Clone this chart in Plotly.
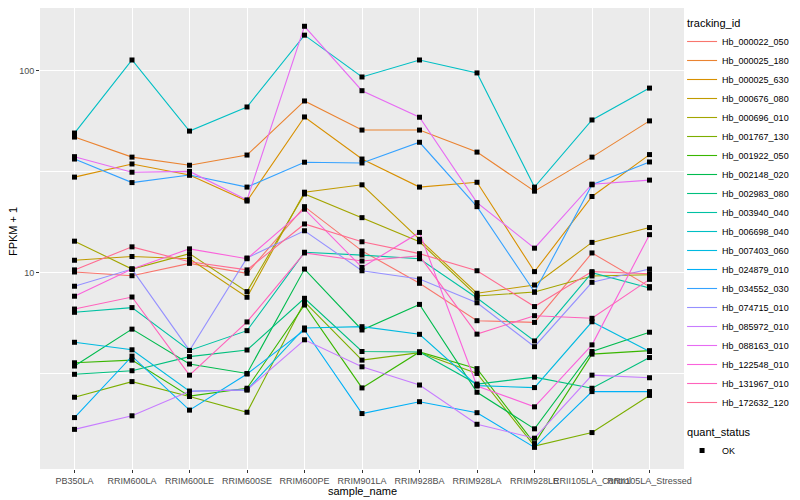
import plotly.graph_objects as go

samples = ["PB350LA", "RRIM600LA", "RRIM600LE", "RRIM600SE", "RRIM600PE", "RRIM901LA",
           "RRIM928BA", "RRIM928LA", "RRIM928LE", "RRII105LA_Control", "RRII105LA_Stressed"]

tracking_ids = ["Hb_000022_050", "Hb_000025_180", "Hb_000025_630", "Hb_000676_080",
                "Hb_000696_010", "Hb_001767_130", "Hb_001922_050", "Hb_002148_020",
                "Hb_002983_080", "Hb_003940_040", "Hb_006698_040", "Hb_007403_060",
                "Hb_024879_010", "Hb_034552_030", "Hb_074715_010", "Hb_085972_010",
                "Hb_088163_010", "Hb_122548_010", "Hb_131967_010", "Hb_172632_120"]

colors = ["#F8766D", "#EA8331", "#D89000", "#C09B00", "#A3A500", "#7CAE00", "#39B600",
          "#00BB4E", "#00BF7D", "#00C1A3", "#00BFC4", "#00BAE0", "#00B0F6", "#35A2FF",
          "#9590FF", "#C77CFF", "#E76BF3", "#FA62DB", "#FF62BC", "#FF6C91"]

# FPKM + 1 values, one list per tracking_id (order of samples)
hb_000022_050 = [10.06, 9.64, 11.1, 9.91, 21.2, 12.8, 8.84, 5.77, 5.66, 12.5, 8.51]
hb_000025_180 = [46.9, 37.3, 34.0, 38.2, 70.8, 50.8, 50.8, 39.5, 25.3, 37.3, 56.4]
hb_000025_630 = [29.7, 34.5, 30.4, 22.6, 59.0, 36.5, 26.5, 28.0, 10.1, 23.8, 38.4]
hb_000676_080 = [11.5, 12.0, 11.7, 7.54, 25.0, 27.2, 14.6, 7.89, 8.67, 14.1, 16.7]
hb_000696_010 = [14.3, 10.4, 12.4, 8.04, 24.5, 18.7, 14.2, 7.65, 8.0, 9.61, 9.75]
hb_001767_130 = [2.41, 2.88, 2.43, 2.03, 7.15, 3.68, 4.01, 3.16, 1.38, 1.61, 2.46]
hb_001922_050 = [3.57, 3.68, 2.44, 2.67, 6.90, 2.68, 4.04, 3.34, 1.42, 3.94, 4.10]
hb_002148_020 = [3.44, 5.24, 3.52, 3.16, 10.4, 5.19, 6.95, 2.55, 1.68, 4.06, 5.06]
hb_002983_080 = [3.13, 3.26, 3.83, 4.13, 7.45, 4.06, 4.04, 2.80, 3.03, 2.67, 3.79]
hb_003940_040 = [6.35, 6.70, 4.11, 5.15, 12.6, 12.2, 11.7, 7.48, 4.58, 9.98, 8.38]
hb_006698_040 = [49.1, 113.0, 50.2, 66.1, 150.0, 93.1, 113.0, 97.5, 26.5, 57.0, 82.0]
hb_007403_060 = [4.51, 4.14, 2.58, 2.62, 5.31, 5.39, 4.94, 2.75, 2.69, 5.70, 4.06]
hb_024879_010 = [1.91, 3.85, 2.08, 3.14, 5.19, 2.00, 2.29, 2.02, 1.36, 2.57, 2.57]
hb_034552_030 = [36.5, 27.9, 30.4, 26.5, 35.2, 34.9, 44.2, 21.2, 8.0, 27.2, 35.3]
hb_074715_010 = [8.55, 10.4, 4.11, 11.8, 16.1, 10.2, 9.29, 7.08, 4.29, 8.94, 10.4]
hb_085972_010 = [1.67, 1.95, 2.58, 2.62, 4.64, 3.41, 2.77, 1.77, 1.51, 3.10, 3.01]
hb_088163_010 = [37.5, 31.4, 31.7, 22.9, 166.0, 79.6, 58.8, 22.2, 13.2, 27.4, 28.7]
hb_122548_010 = [7.63, 10.4, 13.1, 11.7, 20.6, 10.6, 15.8, 2.74, 2.16, 4.38, 15.4]
hb_131967_010 = [6.59, 7.56, 3.10, 5.69, 12.5, 11.4, 12.1, 4.95, 6.11, 5.93, 9.25]
hb_172632_120 = [10.3, 13.4, 11.3, 10.3, 17.4, 14.2, 12.4, 10.2, 6.78, 10.1, 9.86]

series = [hb_000022_050, hb_000025_180, hb_000025_630, hb_000676_080, hb_000696_010,
          hb_001767_130, hb_001922_050, hb_002148_020, hb_002983_080, hb_003940_040,
          hb_006698_040, hb_007403_060, hb_024879_010, hb_034552_030, hb_074715_010,
          hb_085972_010, hb_088163_010, hb_122548_010, hb_131967_010, hb_172632_120]

quant_status = ["OK"]

fig = go.Figure()
for tid, col, vals in zip(tracking_ids, colors, series):
    fig.add_trace(go.Scatter(
        x=samples, y=vals, mode="lines", name=tid,
        line=dict(color=col, width=1.1),
        legendgroup="tracking_id",
        legendgrouptitle=dict(text="tracking_id"),
        hoverinfo="skip",
    ))

all_x, all_y = [], []
for vals in series:
    all_x += samples
    all_y += vals
fig.add_trace(go.Scatter(
    x=all_x, y=all_y, mode="markers", name=quant_status[0],
    marker=dict(symbol="square", size=5, color="black", line=dict(width=0)),
    legendgroup="quant_status",
    legendgrouptitle=dict(text="quant_status"),
))

# The page body adds an 8px offset; the figure is sized to the visible area.
fig.update_layout(
    width=792, height=492,
    margin=dict(l=32, r=116, t=0, b=31),
    paper_bgcolor="white", plot_bgcolor="#EBEBEB",
    font=dict(family="Liberation Sans, Arial, sans-serif", size=9, color="#4D4D4D"),
    showlegend=True,
    legend=dict(x=0.997, xanchor="left", y=0.512, yanchor="middle",
                tracegroupgap=10, traceorder="grouped",
                font=dict(size=9, color="black"),
                grouptitlefont=dict(size=11, color="black"),
                bgcolor="rgba(0,0,0,0)", itemwidth=30),
    annotations=[
        dict(text="sample_name", x=0.5, y=-0.048, xref="paper", yref="paper",
             xanchor="center", yanchor="middle", showarrow=False,
             font=dict(size=11, color="black")),
        dict(text="FPKM + 1", x=-0.0419, y=0.514, xref="paper", yref="paper",
             xanchor="center", yanchor="middle", showarrow=False, textangle=-90,
             font=dict(size=11, color="black")),
    ],
)
fig.update_xaxes(
    type="category", categoryorder="array", categoryarray=samples,
    range=[-0.6, 10.6], showgrid=True, gridcolor="white", gridwidth=1.1,
    ticks="outside", ticklen=3, tickcolor="#333333", tickwidth=1, tickangle=0,
    tickfont=dict(size=9, color="#4D4D4D"), zeroline=False, showline=False,
    automargin=False,
)
fig.update_yaxes(
    type="log", range=[0.0263, 2.3107],
    tickvals=[10, 100], ticktext=["10", "100"],
    showgrid=True, gridcolor="white", gridwidth=1.1,
    ticks="outside", ticklen=3, tickcolor="#333333", tickwidth=1,
    tickfont=dict(size=9, color="#4D4D4D"), zeroline=False, showline=False,
    minor=dict(tickvals=[10 ** 0.5, 10 ** 1.5], showgrid=True, gridcolor="white",
               gridwidth=0.55, ticks=""),
    automargin=False,
)

fig.write_html("out.html")
